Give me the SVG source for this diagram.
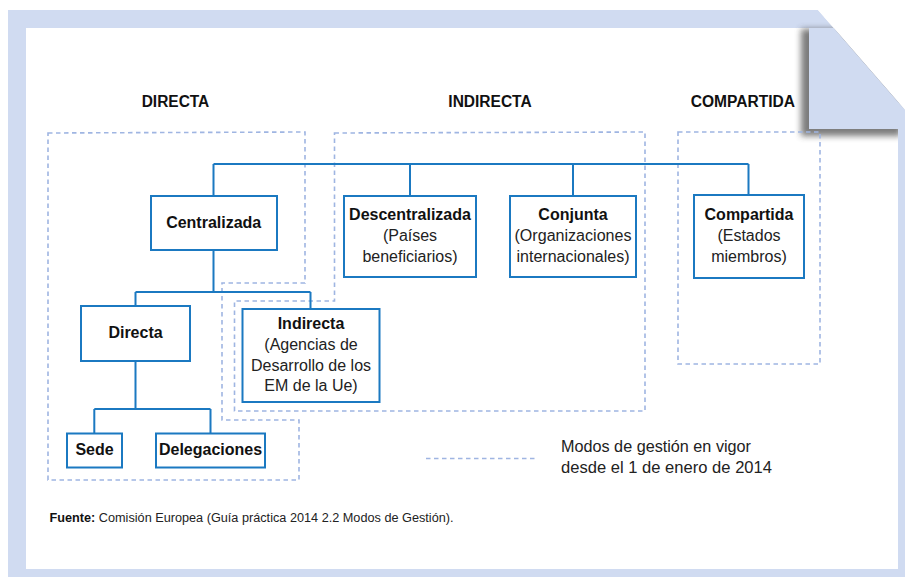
<svg xmlns="http://www.w3.org/2000/svg" width="905" height="579" viewBox="0 0 905 579">
<defs>
<style>
.bx{fill:#ffffff;stroke:#1b79c1;stroke-width:2}
.cn{fill:none;stroke:#1b79c1;stroke-width:2}
.ds{fill:none;stroke:#9fb5e2;stroke-width:1.6;stroke-dasharray:4.5 3.5}
.hd{font-family:"Liberation Sans",Arial,sans-serif;font-weight:bold;font-size:16px;fill:#111;text-anchor:middle}
.tb{font-family:"Liberation Sans",Arial,sans-serif;font-weight:bold;font-size:16px;fill:#111;text-anchor:middle}
.tr{font-family:"Liberation Sans",Arial,sans-serif;font-size:16px;fill:#222;text-anchor:middle}
.lg{font-family:"Liberation Sans",Arial,sans-serif;font-size:16.5px;fill:#222}
.src{font-family:"Liberation Sans",Arial,sans-serif;font-size:12.5px;fill:#222}
</style>
<filter id="blur" x="-20%" y="-20%" width="140%" height="140%">
<feGaussianBlur stdDeviation="3"/>
</filter>
</defs>
<!-- page -->
<g id="page">
<rect x="0" y="0" width="905" height="579" fill="#ffffff"/>
<polygon points="8,10 818,10 905,110 905,577 8,577" fill="#d0dbf1"/>
<rect x="26" y="28" width="872" height="541" fill="#ffffff"/>
<rect x="801" y="29" width="100" height="107" fill="#444" opacity="0.7" filter="url(#blur)"/>
<polygon points="818,10 905,10 905,110" fill="#ffffff"/>
<polygon points="809,28 833.7,28 905,110 905,129 809,129" fill="#d0dbf1"/>
<rect x="898" y="129" width="7" height="448" fill="#d0dbf1"/>
</g>
<!-- headings -->
<g id="headings">
<text class="hd" x="175.5" y="106.7" textLength="67.6" lengthAdjust="spacingAndGlyphs">DIRECTA</text>
<text class="hd" x="490" y="106.7" textLength="83.3" lengthAdjust="spacingAndGlyphs">INDIRECTA</text>
<text class="hd" x="742.8" y="106.5" textLength="104.3" lengthAdjust="spacingAndGlyphs">COMPARTIDA</text>
</g>
<!-- dashed regions -->
<g id="regions">
<polygon id="region-directa" class="ds" points="48,133 305,132 305,283 222,283 222,420 299,420 299,480 48,480"/>
<polygon id="region-indirecta" class="ds" points="334.5,133 645,132 645,411 234.5,411 234.5,301 334.5,301"/>
<polygon id="region-compartida" class="ds" points="678,132 820,132 820,364 678,364"/>
</g>
<!-- connectors -->
<g id="connectors">
<path class="cn" d="M213.5,164 H748.5 M213.5,164 V196 M410,164 V196 M573,164 V196 M748.5,164 V195"/>
<path class="cn" d="M213.5,250 V292 M135.5,292 H310.5 M135.5,292 V306 M310.5,292 V309"/>
<path class="cn" d="M135.5,361 V409 M94.3,409 H210.5 M94.3,409 V433 M210.5,409 V433"/>
</g>
<!-- nodes -->
<g id="node-centralizada">
<rect class="bx" x="151" y="196" width="126" height="54"/>
<text class="tb" x="213.7" y="228.3">Centralizada</text>
</g>
<g id="node-descentralizada">
<rect class="bx" x="344" y="196" width="132" height="81"/>
<text class="tb" x="410" y="220">Descentralizada</text>
<text class="tr" x="410" y="241">(Países</text>
<text class="tr" x="410" y="262">beneficiarios)</text>
</g>
<g id="node-conjunta">
<rect class="bx" x="510" y="196" width="126" height="81"/>
<text class="tb" x="573" y="220">Conjunta</text>
<text class="tr" x="573" y="241" textLength="117" lengthAdjust="spacingAndGlyphs">(Organizaciones</text>
<text class="tr" x="573" y="262">internacionales)</text>
</g>
<g id="node-compartida">
<rect class="bx" x="694" y="195" width="110" height="83"/>
<text class="tb" x="749" y="220">Compartida</text>
<text class="tr" x="749" y="241">(Estados</text>
<text class="tr" x="749" y="262">miembros)</text>
</g>
<g id="node-directa">
<rect class="bx" x="81" y="306" width="109" height="55"/>
<text class="tb" x="135.5" y="338.3">Directa</text>
</g>
<g id="node-indirecta">
<rect class="bx" x="242.5" y="309" width="137" height="93"/>
<text class="tb" x="311" y="329">Indirecta</text>
<text class="tr" x="311" y="350">(Agencias de</text>
<text class="tr" x="311" y="371">Desarrollo de los</text>
<text class="tr" x="311" y="391">EM de la Ue)</text>
</g>
<g id="node-sede">
<rect class="bx" x="67" y="433.5" width="55" height="34"/>
<text class="tb" x="94.5" y="455">Sede</text>
</g>
<g id="node-delegaciones">
<rect class="bx" x="156" y="433.5" width="109" height="34"/>
<text class="tb" x="210.5" y="455">Delegaciones</text>
</g>
<!-- legend -->
<g id="legend">
<line class="ds" x1="426" y1="458.5" x2="537" y2="458.5"/>
<text class="lg" x="561" y="451.7" textLength="190" lengthAdjust="spacingAndGlyphs">Modos de gestión en vigor</text>
<text class="lg" x="561" y="473.3" textLength="211" lengthAdjust="spacingAndGlyphs">desde el 1 de enero de 2014</text>
</g>
<g id="source">
<text class="src" x="49.5" y="522.3" textLength="404" lengthAdjust="spacingAndGlyphs"><tspan font-weight="bold" fill="#111">Fuente:</tspan> Comisión Europea (Guía práctica 2014 2.2 Modos de Gestión).</text>
</g>
</svg>
